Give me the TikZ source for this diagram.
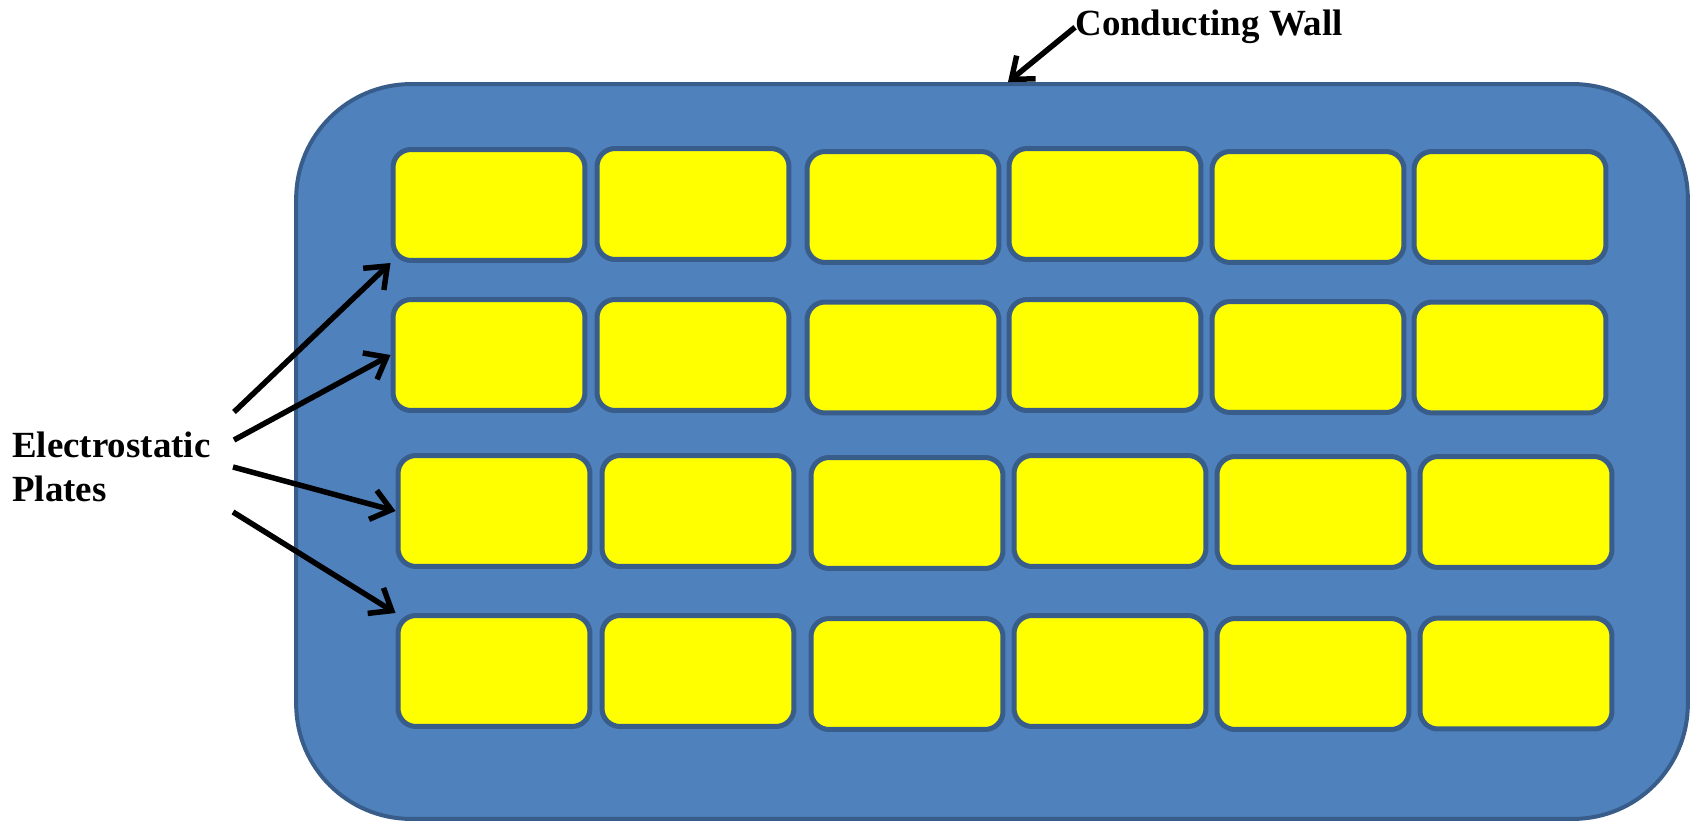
\documentclass[tikz,border=0pt]{standalone}
\usepackage{fontspec}
\setmainfont{Liberation Serif}
\usetikzlibrary{arrows.meta, positioning}
\definecolor{wallblue}{HTML}{4F81BD}
\definecolor{edgeblue}{HTML}{385D8A}
\definecolor{plateyellow}{HTML}{FFFF00}

\begin{document}
\begin{tikzpicture}[x=0.02cm, y=-0.02cm]

\tikzset{plate/.style = {shape=rectangle, rounded corners=0.36cm, draw=edgeblue, line width=0.1cm, fill=plateyellow, minimum width=3.84cm, minimum height=2.22cm, inner sep=0}}
\tikzset{textlabel/.style = {font=\bfseries\fontsize{21pt}{25pt}\selectfont, inner sep=0}}
\tikzset{pointer/.style = {->, > = {Straight Barb[length=3.8mm,width=6mm]}, line width=0.11cm}}

\useasboundingbox (0,0) rectangle (1691,821);

% wall
\node[draw=edgeblue, fill=wallblue, line width=0.08cm, rounded corners=2.3cm, minimum width=27.84cm, minimum height=14.7cm] (wall) at (992,451.5) {};

% plates
\node[plate] (p11) at (489,205) {};
\node[plate] (p12) at (693,204) {};
\node[plate] (p13) at (903,207) {};
\node[plate] (p14) at (1105,204) {};
\node[plate] (p15) at (1308,207) {};
\node[plate] (p16) at (1510,207) {};
\node[plate] (p21) at (489,355) {};
\node[plate] (p22) at (693,355) {};
\node[plate] (p23) at (903,357.5) {};
\node[plate] (p24) at (1105,355) {};
\node[plate] (p25) at (1308,357) {};
\node[plate] (p26) at (1510,357.5) {};
\node[plate] (p31) at (494,511) {};
\node[plate] (p32) at (698,511) {};
\node[plate] (p33) at (907,513) {};
\node[plate] (p34) at (1110,511) {};
\node[plate] (p35) at (1313,512) {};
\node[plate] (p36) at (1516,512) {};
\node[plate] (p41) at (494,671) {};
\node[plate] (p42) at (698,671) {};
\node[plate] (p43) at (907,674) {};
\node[plate] (p44) at (1110,671) {};
\node[plate] (p45) at (1313,674) {};
\node[plate] (p46) at (1516,673.5) {};

% labels
\node[textlabel, anchor=north west, align=left] (es) at (12,432) {Electrostatic\\Plates};
\node[textlabel, anchor=base west] (cw) at (1075,36) {Conducting Wall};

%edges
\coordinate (t1) at (234,412);
\coordinate (t2) at (234,440);
\coordinate (t3) at (233,467);
\coordinate (t4) at (233,512);
\draw[pointer] (t1) -- (p11.south west);
\draw[pointer] (t2) -- (p21.west);
\draw[pointer] (t3) -- (p31.west);
\draw[pointer] (t4) -- (p41.north west);
\draw[pointer] (cw.west) -- ([xshift=0.32cm]wall.north);
\end{tikzpicture}
\end{document}
